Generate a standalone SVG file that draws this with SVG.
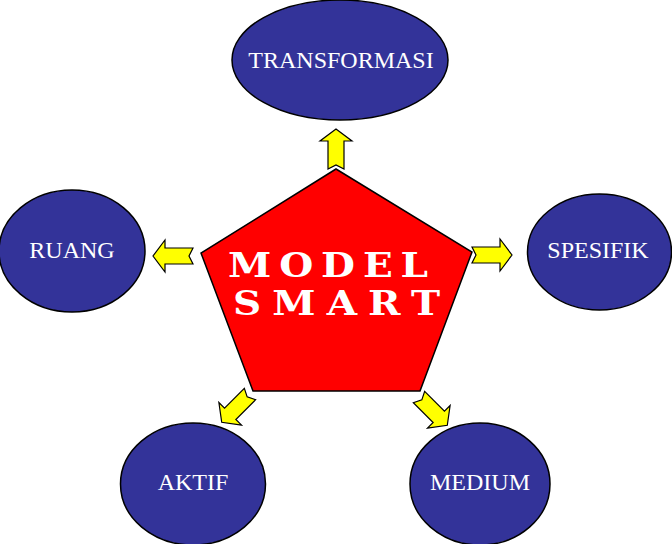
<svg xmlns="http://www.w3.org/2000/svg" width="672" height="544" viewBox="0 0 672 544">
<style>
.node ellipse{fill:#333399;stroke:#000;stroke-width:1.5}
.node text{fill:#fff;font-family:"Liberation Serif","Times New Roman",serif;font-size:24px;text-anchor:middle}
.arrow{fill:#ffff00;stroke:#000;stroke-width:1.2;stroke-linejoin:miter}
.title{fill:#fff;font-family:"DejaVu Serif","Liberation Serif",serif;font-weight:bold;font-size:34px}
</style>
<defs>
<polygon id="arr" points="0,-8 28,-8 28,-16 40,0 28,16 28,8 0,8 4,0"/>
</defs>
<rect width="672" height="544" fill="#fff"/>
<g id="connectors">
<use href="#arr" class="arrow" transform="translate(336,169) rotate(-90)"/>
<use href="#arr" class="arrow" transform="translate(193,256) rotate(180)"/>
<use href="#arr" class="arrow" transform="translate(472,255)"/>
<use href="#arr" class="arrow" transform="translate(250,394) rotate(135)"/>
<use href="#arr" class="arrow" transform="translate(419,397) rotate(45)"/>
</g>
<g id="center">
<polygon points="336,169 472,252 420,391 253,391 201,253" fill="#ff0000" stroke="#000" stroke-width="1.5"/>
<text class="title" transform="translate(228,277) scale(1.15,1)" x="0" y="0" textLength="174" lengthAdjust="spacing">MODEL</text>
<text class="title" transform="translate(233,315) scale(1.15,1)" x="0" y="0" textLength="180" lengthAdjust="spacing">SMART</text>
</g>
<g id="transformasi" class="node">
<ellipse cx="340" cy="60" rx="108" ry="60"/>
<text x="341" y="68">TRANSFORMASI</text>
</g>
<g id="ruang" class="node">
<ellipse cx="72" cy="251" rx="73" ry="61"/>
<text x="72" y="258">RUANG</text>
</g>
<g id="spesifik" class="node">
<ellipse cx="599.5" cy="252" rx="72" ry="58"/>
<text x="598" y="258">SPESIFIK</text>
</g>
<g id="aktif" class="node">
<ellipse cx="193" cy="484" rx="72.5" ry="61"/>
<text x="193" y="490">AKTIF</text>
</g>
<g id="medium" class="node">
<ellipse cx="480" cy="484" rx="70" ry="61"/>
<text x="480" y="490">MEDIUM</text>
</g>
</svg>
